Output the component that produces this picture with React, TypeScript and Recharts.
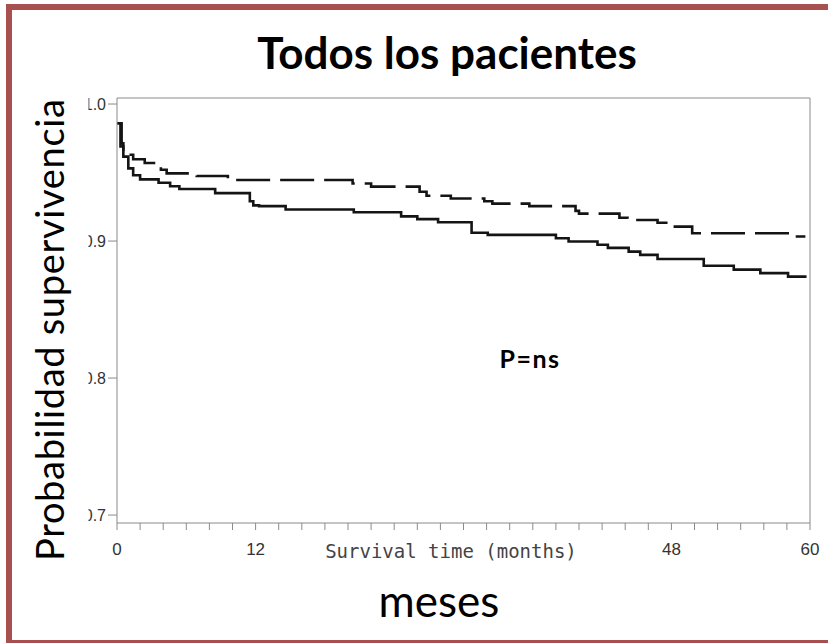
import { LineChart, Line, XAxis, YAxis, ReferenceLine } from 'recharts'

// Kaplan-Meier estimates (months, survival probability), one step per row
const solidMonths = [0, 0.3, 0.55, 0.98, 1.4, 2.0, 3.6, 4.6, 5.4, 8.5, 11.5, 11.8, 12.3, 14.6, 20.5, 24.6, 26.0, 27.8, 30.7, 32.1, 38.0, 39.1, 41.6, 42.5, 44.3, 45.3, 46.8, 50.8, 53.4, 55.7, 58.1, 59.7]
const solidSurvival = [0.986, 0.969, 0.9616, 0.953, 0.948, 0.945, 0.9425, 0.94, 0.938, 0.935, 0.929, 0.926, 0.9255, 0.923, 0.921, 0.918, 0.916, 0.9137, 0.906, 0.9045, 0.902, 0.8997, 0.8973, 0.895, 0.8923, 0.8899, 0.8869, 0.882, 0.8791, 0.8766, 0.874, 0.874]

const dashedMonths = [0, 0.4, 0.55, 0.7, 1.4, 2.4, 3.8, 4.3, 6.9, 9.6, 20.4, 22.0, 26.2, 26.8, 28.9, 31.8, 32.5, 35.7, 39.7, 40.0, 43.5, 44.2, 46.8, 48.1, 49.8, 58.4, 59.6]
const dashedSurvival = [0.986, 0.9713, 0.965, 0.963, 0.9597, 0.957, 0.952, 0.9494, 0.9475, 0.9445, 0.942, 0.9397, 0.936, 0.933, 0.931, 0.929, 0.9273, 0.9255, 0.922, 0.92, 0.917, 0.9153, 0.9134, 0.9105, 0.9057, 0.9033, 0.9033]

const xTicks = [0, 2, 4, 6, 8, 10, 12, 14, 16, 18, 20, 22, 24, 26, 28, 30, 32, 34, 36, 38, 40, 42, 44, 46, 48, 50, 52, 54, 56, 58, 60]
const xTickLabels = [0, 12, 48, 60]
const yTicks = [0.7, 0.8, 0.9, 1.0]

const Y_MIN = 0.6942
const Y_MAX = 1.0044

const toRows = (months: number[], values: number[]) =>
  months.map((t, i) => ({ t, s: values[i] }))

const solidRows = toRows(solidMonths, solidSurvival)
const dashedRows = toRows(dashedMonths, dashedSurvival)

const FRAME = '#a84f4f'
const AXIS = '#8a8a8a'

const XTick = ({ x, y, payload }: any) => {
  if (!xTickLabels.includes(payload.value)) return null
  return (
    <text x={x} y={y + 23} textAnchor="middle" fontFamily="Liberation Sans" fontSize={17} fill="#333">
      {payload.value}
    </text>
  )
}

// labels are cut on the left, so clip them at a fixed edge
const YTick = ({ x, y, payload, index }: any) => (
  <g>
    <clipPath id={`yclip-${index}`}>
      <rect x={88.5} y={y - 12} width={30} height={24} />
    </clipPath>
    <text
      x={x}
      y={y}
      textAnchor="end"
      dominantBaseline="central"
      fontFamily="Liberation Sans"
      fontSize={16}
      fill="#333"
      clipPath={`url(#yclip-${index})`}
    >
      {payload.value.toFixed(1)}
    </text>
  </g>
)

export default function App() {
  return (
    <div style={{ position: 'absolute', left: 0, top: 0, width: 828, height: 643, background: '#fff' }}>
      <LineChart width={828} height={643} margin={{ top: 98, right: 18, bottom: 80, left: 77 }}>
        <XAxis
          dataKey="t"
          type="number"
          domain={[0, 60]}
          ticks={xTicks}
          interval={0}
          height={40}
          tickSize={7}
          stroke={AXIS}
          tick={<XTick />}
          allowDataOverflow
        />
        <YAxis
          type="number"
          domain={[Y_MIN, Y_MAX]}
          ticks={yTicks}
          width={40}
          tickSize={9}
          tickMargin={2}
          stroke={AXIS}
          tick={<YTick />}
          allowDataOverflow
        />
        <ReferenceLine x={60} stroke={AXIS} strokeWidth={1} />
        <ReferenceLine y={Y_MAX} stroke={AXIS} strokeWidth={1} />
        <Line
          data={dashedRows}
          dataKey="s"
          type="stepAfter"
          stroke="#141414"
          strokeWidth={2.6}
          strokeDasharray="34 10"
          dot={false}
          isAnimationActive={false}
        />
        <Line
          data={solidRows}
          dataKey="s"
          type="stepAfter"
          stroke="#141414"
          strokeWidth={2.6}
          dot={false}
          isAnimationActive={false}
        />
      </LineChart>
      <svg width={828} height={643} style={{ position: 'absolute', left: 0, top: 0, pointerEvents: 'none' }}>
        <rect x={6} y={4} width={822} height={6} fill={FRAME} />
        <rect x={6} y={4} width={6} height={639} fill={FRAME} />
        <rect x={6} y={640} width={822} height={3} fill={FRAME} />
        <text x={447} y={69} textAnchor="middle" fontFamily="Lato" fontWeight="bold" fontSize={44} fill="#000">
          Todos los pacientes
        </text>
        <text
          transform="translate(64, 330) rotate(-90)"
          textAnchor="middle"
          fontFamily="Lato"
          fontSize={38}
          textLength={462}
          lengthAdjust="spacing"
          fill="#000"
        >
          Probabilidad supervivencia
        </text>
        <text x={439} y={617} textAnchor="middle" fontFamily="Lato" fontSize={44} fill="#000">
          meses
        </text>
        <text x={530} y={368} textAnchor="middle" fontFamily="Lato" fontWeight="bold" fontSize={25} letterSpacing={1.5} fill="#000">
          P=ns
        </text>
        <text x={451} y={558} textAnchor="middle" fontFamily="DejaVu Sans Mono" fontSize={19} fill="#444">
          Survival time (months)
        </text>
      </svg>
    </div>
  )
}
